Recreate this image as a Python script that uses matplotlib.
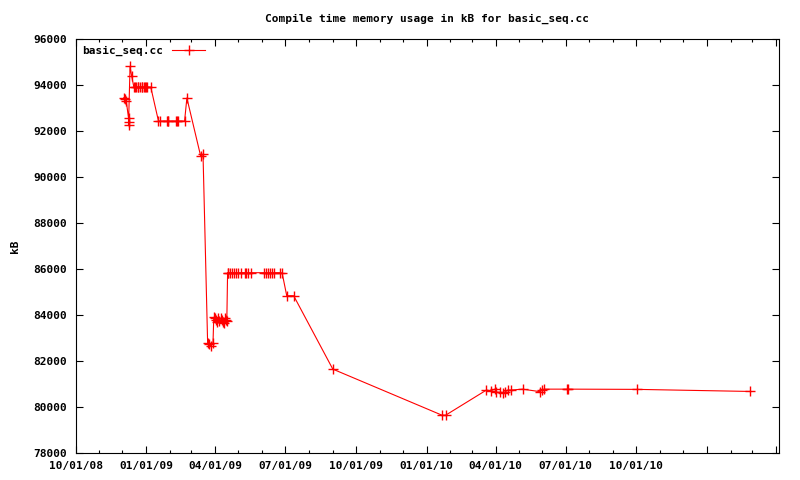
import datetime as dt
import matplotlib
matplotlib.use('Agg')
import matplotlib.pyplot as plt
import matplotlib.dates as mdates

# build dates (compile memory in kB)
dates = ['2008-12-03', '2008-12-04', '2008-12-06', '2008-12-09', '2008-12-09', '2008-12-09',
         '2008-12-11', '2008-12-13',
         '2008-12-16', '2008-12-18', '2008-12-19', '2008-12-21', '2008-12-22', '2008-12-24',
         '2008-12-26', '2008-12-27', '2008-12-29', '2008-12-30', '2009-01-01', '2009-01-02',
         '2009-01-07',
         '2009-01-17', '2009-01-19', '2009-01-28', '2009-01-29', '2009-01-30',
         '2009-02-09', '2009-02-10', '2009-02-11', '2009-02-20', '2009-02-23',
         '2009-03-13', '2009-03-16',
         '2009-03-22', '2009-03-24', '2009-03-26', '2009-03-29',
         '2009-03-30', '2009-03-31', '2009-04-02', '2009-04-03', '2009-04-05', '2009-04-06',
         '2009-04-08', '2009-04-10', '2009-04-11', '2009-04-12', '2009-04-14', '2009-04-15',
         '2009-04-16',
         '2009-04-17', '2009-04-18', '2009-04-20', '2009-04-23', '2009-04-25', '2009-04-28',
         '2009-05-01', '2009-05-04', '2009-05-10', '2009-05-11', '2009-05-14', '2009-05-17',
         '2009-06-03', '2009-06-06', '2009-06-09', '2009-06-11', '2009-06-14', '2009-06-16',
         '2009-06-24', '2009-06-27',
         '2009-07-03', '2009-07-12', '2009-09-01',
         '2010-01-21', '2010-01-26',
         '2010-03-20', '2010-03-26', '2010-03-31', '2010-04-02', '2010-04-07', '2010-04-10',
         '2010-04-13', '2010-04-17', '2010-04-21', '2010-05-06', '2010-05-29', '2010-05-31',
         '2010-06-03', '2010-07-03', '2010-07-04', '2010-10-02', '2011-02-26']

memory_kb = [93450, 93380, 93320, 92560, 92400, 92250,
             94800, 94400,
             93900, 93900, 93900, 93900, 93900, 93900,
             93900, 93900, 93900, 93900, 93900, 93900,
             93900,
             92430, 92430, 92430, 92430, 92430,
             92430, 92430, 92430, 92430, 93430,
             90900, 91000,
             82800, 82720, 82650, 82780,
             83900, 83850, 83800, 83700, 83850, 83750,
             83850, 83800, 83700, 83650, 83850, 83800,
             83750,
             85840, 85840, 85840, 85840, 85840, 85840,
             85840, 85840, 85840, 85840, 85840, 85840,
             85840, 85840, 85840, 85840, 85840, 85840,
             85840, 85830,
             84840, 84840, 81650,
             79650, 79650,
             80740, 80710, 80780, 80650, 80640, 80600,
             80650, 80740, 80740, 80780, 80670, 80740,
             80780, 80780, 80780, 80770, 80680]

major_ticks = ['2008-10-01', '2009-01-01', '2009-04-01', '2009-07-01', '2009-10-01',
               '2010-01-01', '2010-04-01', '2010-07-01', '2010-10-01', '2011-01-01', '2011-04-01']
tick_labels = ['10/01/08', '01/01/09', '04/01/09', '07/01/09', '10/01/09',
               '01/01/10', '04/01/10', '07/01/10', '10/01/10', '', '']

x = [dt.datetime.strptime(d, '%Y-%m-%d') for d in dates]
xt = [dt.datetime.strptime(d, '%Y-%m-%d') for d in major_ticks]

plt.rcParams['font.family'] = ['DejaVu Sans Mono']
plt.rcParams['font.size'] = 8
plt.rcParams['font.weight'] = 'bold'

fig = plt.figure(figsize=(8, 4.8), dpi=100)
ax = fig.add_axes([0.0944, 0.056, 0.8794, 0.863])

ax.plot(x, memory_kb, color='red', lw=0.8, marker='+', ms=7.5, mew=1.0, label='basic_seq.cc')

ax.set_xlim(dt.datetime(2008, 10, 1), dt.datetime(2011, 4, 5))
ax.set_ylim(78000, 96000)
ax.set_yticks(range(78000, 96001, 2000))
ax.set_xticks(xt)
ax.set_xticklabels(tick_labels)
ax.xaxis.set_minor_locator(mdates.MonthLocator())

ax.tick_params(which='both', direction='in', top=True, right=True, width=0.8)
ax.tick_params(which='major', length=5, pad=6)
ax.tick_params(which='minor', length=2.5)
for s in ax.spines.values():
    s.set_linewidth(0.8)

ax.set_ylabel('kB', labelpad=10, fontweight='bold')
ax.set_title('Compile time memory usage in kB for basic_seq.cc', fontsize=8,
             fontweight='bold', pad=12)
ax.legend(loc='upper left', frameon=False, markerfirst=False, handlelength=3.0,
          borderaxespad=0.2, handletextpad=0.8)

plt.savefig('out.png', dpi=100)
